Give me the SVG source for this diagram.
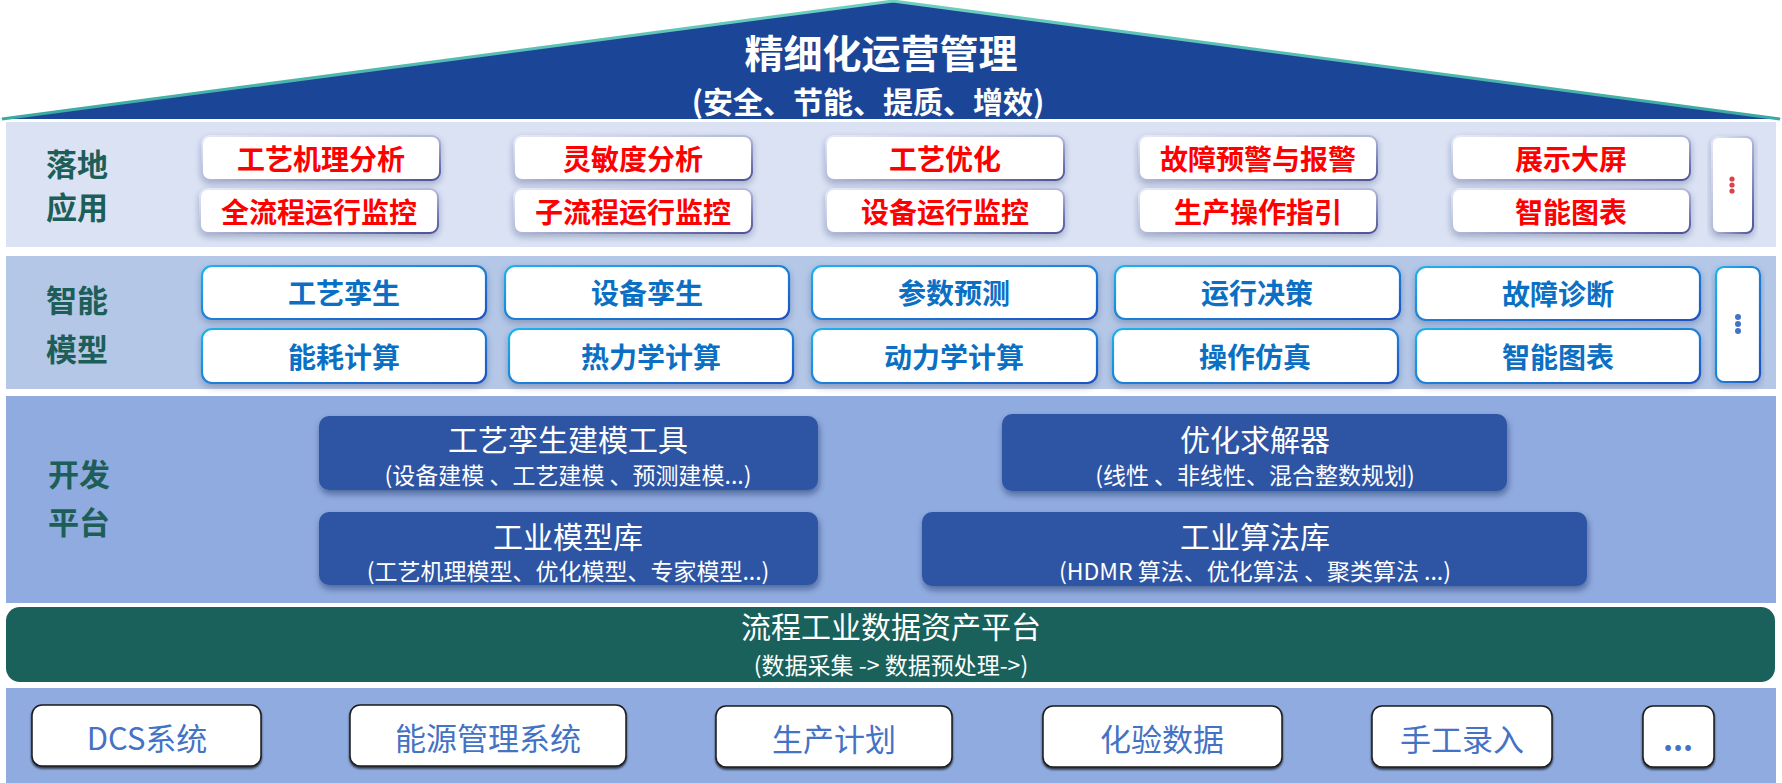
<svg xmlns="http://www.w3.org/2000/svg" width="1782" height="783" viewBox="0 0 1782 783">
<defs>
<linearGradient id="g1" x1="0" y1="0" x2="1" y2="1">
<stop offset="0" stop-color="#e6e9f6"/>
<stop offset="0.5" stop-color="#b4b8da"/>
<stop offset="1" stop-color="#4c5198"/>
</linearGradient>
<linearGradient id="g2" x1="0" y1="0" x2="1" y2="1">
<stop offset="0" stop-color="#1fb2ee"/>
<stop offset="1" stop-color="#1a52c2"/>
</linearGradient>
<linearGradient id="roofline" x1="0" y1="0" x2="1" y2="0">
<stop offset="0" stop-color="#3aa9a0"/>
<stop offset="0.5" stop-color="#6fd0c0"/>
<stop offset="1" stop-color="#3aa9a0"/>
</linearGradient>
<filter id="sh" x="-10%" y="-20%" width="120%" height="150%">
<feDropShadow dx="0" dy="3" stdDeviation="3" flood-color="#1a2a5a" flood-opacity="0.3"/>
</filter>
<filter id="sh2" x="-10%" y="-20%" width="120%" height="150%">
<feDropShadow dx="1" dy="4" stdDeviation="3" flood-color="#0d1f4a" flood-opacity="0.45"/>
</filter>
<filter id="sh3" x="-10%" y="-20%" width="120%" height="150%">
<feDropShadow dx="0" dy="2" stdDeviation="1.2" flood-color="#000" flood-opacity="0.7"/>
</filter>
</defs>
<style>
text{font-family:"Noto Sans CJK SC","Liberation Sans",sans-serif;text-anchor:middle;dominant-baseline:central}
.lbl{font-size:31px;font-weight:700;fill:#1e5e58}
.b1{fill:#fff;stroke:url(#g1);stroke-width:2}
.t1{font-size:28px;font-weight:700;fill:#ff0000}
.b2{fill:#fff;stroke:url(#g2);stroke-width:2.2}
.t2{font-size:28px;font-weight:700;fill:#0b6fc4}
.b3{fill:#2e55a4}
.t3{font-size:30px;fill:#fff}
.s3{font-size:23px;fill:#fff}
.b5{fill:#fff;stroke:#1a1a1a;stroke-width:1.5}
.t5{font-size:31px;fill:#4472c4}
</style>

<g id="roof">
<polygon points="0,119 893,1 1782,119" fill="#1b4698"/>
<polyline points="2,119 893,1 1780,119" fill="none" stroke="url(#roofline)" stroke-width="3"/>
<text x="881" y="51" style="font-size:39px;font-weight:700;fill:#fff">精细化运营管理</text>
<text x="868" y="100" style="font-size:30px;font-weight:700;fill:#fff">(安全、节能、提质、增效)</text>
</g>

<g id="layer-apps">
<rect x="6" y="122" width="1770" height="125" fill="#dae2f4"/>
<text class="lbl" x="77" y="162">落地</text>
<text class="lbl" x="77" y="205">应用</text>
</g>
<g id="app-1"><rect class="b1" x="202" y="136" width="238" height="44" rx="8" filter="url(#sh)"/><text class="t1" x="321" y="158">工艺机理分析</text></g>
<g id="app-2"><rect class="b1" x="514" y="136" width="238" height="44" rx="8" filter="url(#sh)"/><text class="t1" x="633" y="158">灵敏度分析</text></g>
<g id="app-3"><rect class="b1" x="826" y="136" width="238" height="44" rx="8" filter="url(#sh)"/><text class="t1" x="945" y="158">工艺优化</text></g>
<g id="app-4"><rect class="b1" x="1139" y="136" width="238" height="44" rx="8" filter="url(#sh)"/><text class="t1" x="1258" y="158">故障预警与报警</text></g>
<g id="app-5"><rect class="b1" x="1452" y="136" width="238" height="44" rx="8" filter="url(#sh)"/><text class="t1" x="1571" y="158">展示大屏</text></g>
<g id="app-6"><rect class="b1" x="200" y="189" width="238" height="44" rx="8" filter="url(#sh)"/><text class="t1" x="319" y="211">全流程运行监控</text></g>
<g id="app-7"><rect class="b1" x="514" y="189" width="238" height="44" rx="8" filter="url(#sh)"/><text class="t1" x="633" y="211">子流程运行监控</text></g>
<g id="app-8"><rect class="b1" x="826" y="189" width="238" height="44" rx="8" filter="url(#sh)"/><text class="t1" x="945" y="211">设备运行监控</text></g>
<g id="app-9"><rect class="b1" x="1139" y="189" width="238" height="44" rx="8" filter="url(#sh)"/><text class="t1" x="1258" y="211">生产操作指引</text></g>
<g id="app-10"><rect class="b1" x="1452" y="189" width="238" height="44" rx="8" filter="url(#sh)"/><text class="t1" x="1571" y="211">智能图表</text></g>
<g id="app-more"><rect class="b1" x="1712" y="137" width="41" height="96" rx="7" filter="url(#sh)"/>
<circle cx="1732" cy="179" r="2.6" fill="#d9434e"/><circle cx="1732" cy="185" r="2.6" fill="#d9434e"/><circle cx="1732" cy="191" r="2.6" fill="#d9434e"/></g>

<g id="layer-models">
<rect x="6" y="256" width="1770" height="133" fill="#b4c7e7"/>
<text class="lbl" x="77" y="298">智能</text>
<text class="lbl" x="77" y="347">模型</text>
</g>
<g id="model-1"><rect class="b2" x="202" y="266" width="284" height="53" rx="10" filter="url(#sh)"/><text class="t2" x="344" y="292">工艺孪生</text></g>
<g id="model-2"><rect class="b2" x="505" y="266" width="284" height="53" rx="10" filter="url(#sh)"/><text class="t2" x="647" y="292">设备孪生</text></g>
<g id="model-3"><rect class="b2" x="812" y="266" width="285" height="53" rx="10" filter="url(#sh)"/><text class="t2" x="954" y="292">参数预测</text></g>
<g id="model-4"><rect class="b2" x="1115" y="266" width="285" height="53" rx="10" filter="url(#sh)"/><text class="t2" x="1257" y="292">运行决策</text></g>
<g id="model-5"><rect class="b2" x="1416" y="267" width="284" height="53" rx="10" filter="url(#sh)"/><text class="t2" x="1558" y="293">故障诊断</text></g>
<g id="model-6"><rect class="b2" x="202" y="329" width="284" height="54" rx="10" filter="url(#sh)"/><text class="t2" x="344" y="356">能耗计算</text></g>
<g id="model-7"><rect class="b2" x="509" y="329" width="284" height="54" rx="10" filter="url(#sh)"/><text class="t2" x="651" y="356">热力学计算</text></g>
<g id="model-8"><rect class="b2" x="812" y="329" width="285" height="54" rx="10" filter="url(#sh)"/><text class="t2" x="954" y="356">动力学计算</text></g>
<g id="model-9"><rect class="b2" x="1113" y="329" width="285" height="54" rx="10" filter="url(#sh)"/><text class="t2" x="1255" y="356">操作仿真</text></g>
<g id="model-10"><rect class="b2" x="1416" y="329" width="284" height="54" rx="10" filter="url(#sh)"/><text class="t2" x="1558" y="356">智能图表</text></g>
<g id="model-more"><rect class="b2" x="1716" y="267" width="44" height="115" rx="8" filter="url(#sh)"/>
<circle cx="1738" cy="317" r="3" fill="#4472c4"/><circle cx="1738" cy="324" r="3" fill="#4472c4"/><circle cx="1738" cy="331" r="3" fill="#4472c4"/></g>

<g id="layer-dev">
<rect x="6" y="396" width="1770" height="207" fill="#8fabdf"/>
<text class="lbl" x="79" y="472">开发</text>
<text class="lbl" x="79" y="520">平台</text>
</g>
<g id="dev-1"><rect class="b3" x="319" y="416" width="499" height="74" rx="10" filter="url(#sh2)"/>
<text class="t3" x="568" y="438">工艺孪生建模工具</text><text class="s3" x="568" y="474">(设备建模 、工艺建模 、预测建模...)</text></g>
<g id="dev-2"><rect class="b3" x="1002" y="414" width="505" height="77" rx="10" filter="url(#sh2)"/>
<text class="t3" x="1255" y="438">优化求解器</text><text class="s3" x="1255" y="474">(线性 、非线性、混合整数规划)</text></g>
<g id="dev-3"><rect class="b3" x="319" y="512" width="499" height="73" rx="10" filter="url(#sh2)"/>
<text class="t3" x="568" y="535">工业模型库</text><text class="s3" x="568" y="570">(工艺机理模型、优化模型、专家模型...)</text></g>
<g id="dev-4"><rect class="b3" x="922" y="512" width="665" height="74" rx="10" filter="url(#sh2)"/>
<text class="t3" x="1255" y="535">工业算法库</text><text class="s3" x="1255" y="570">(HDMR 算法、优化算法 、聚类算法 ...)</text></g>

<g id="data-platform">
<rect x="6" y="607" width="1769" height="75" rx="14" fill="#19615a"/>
<text x="891" y="625" style="font-size:30px;fill:#fff">流程工业数据资产平台</text>
<text x="891" y="664" style="font-size:23px;fill:#fff">(数据采集 -&gt; 数据预处理-&gt;)</text>
</g>

<g id="layer-sources">
<rect x="6" y="688" width="1770" height="95" fill="#8fabdf"/>
</g>
<g id="src-1"><rect class="b5" x="32" y="705" width="229" height="61" rx="10" filter="url(#sh3)"/><text class="t5" x="147" y="736">DCS系统</text></g>
<g id="src-2"><rect class="b5" x="350" y="705" width="276" height="61" rx="10" filter="url(#sh3)"/><text class="t5" x="488" y="736">能源管理系统</text></g>
<g id="src-3"><rect class="b5" x="716" y="706" width="236" height="61" rx="10" filter="url(#sh3)"/><text class="t5" x="834" y="737">生产计划</text></g>
<g id="src-4"><rect class="b5" x="1043" y="706" width="239" height="61" rx="10" filter="url(#sh3)"/><text class="t5" x="1162" y="737">化验数据</text></g>
<g id="src-5"><rect class="b5" x="1372" y="706" width="180" height="61" rx="10" filter="url(#sh3)"/><text class="t5" x="1462" y="737">手工录入</text></g>
<g id="src-more"><rect class="b5" x="1643" y="706" width="71" height="61" rx="10" filter="url(#sh3)"/><text class="t5" x="1678" y="737" style="font-weight:700">...</text></g>
</svg>
